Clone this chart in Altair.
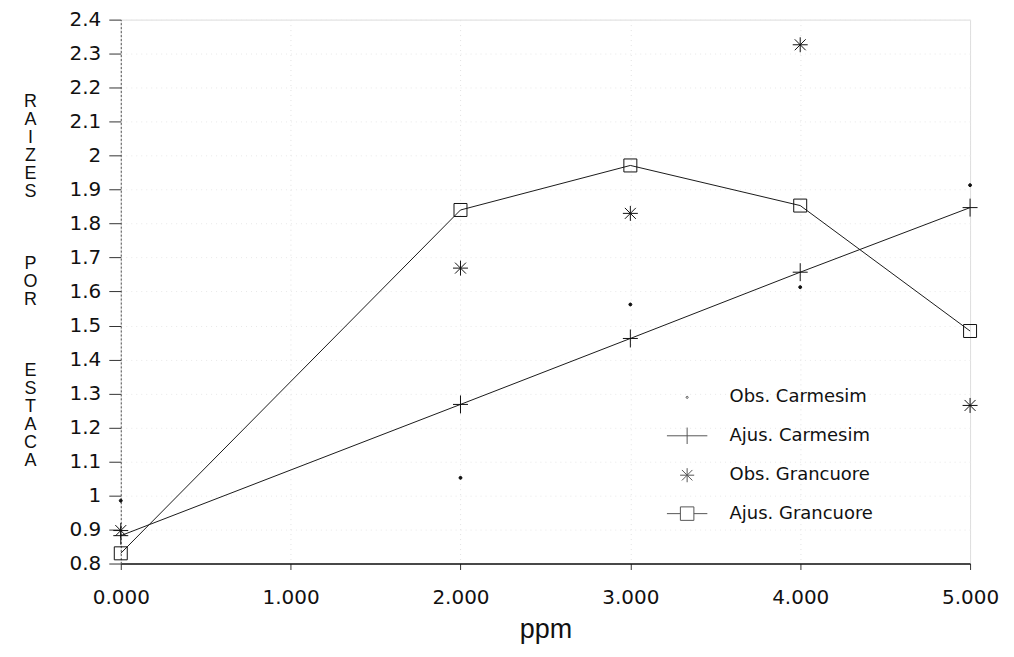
import altair as alt
import pandas as pd

# ---- data ----
ppm = [0, 2000, 3000, 4000, 5000]
obs_carmesim = [0.985, 1.052, 1.562, 1.613, 1.913]
ajus_carmesim = [0.882, 1.268, 1.462, 1.657, 1.847]
obs_grancuore = [0.897, 1.669, 1.830, 2.326, 1.265]
ajus_grancuore = [0.830, 1.840, 1.971, 1.853, 1.484]
series_names = ["Obs. Carmesim", "Ajus. Carmesim", "Obs. Grancuore", "Ajus. Grancuore"]
y_ticks = [round(0.8 + 0.1 * i, 1) for i in range(17)]
x_ticks = [0, 1000, 2000, 3000, 4000, 5000]
ZW = "\u200b"
y_title = ["R", "A", "I", "Z", "E", "S", ZW, ZW, ZW, "P", "O", "R", ZW, ZW, ZW,
           "E", "S", "T", "A", "C", "A"]

rows = []
for name, vals in zip(series_names, [obs_carmesim, ajus_carmesim, obs_grancuore, ajus_grancuore]):
    for x, v in zip(ppm, vals):
        rows.append({"ppm": x, "valor": v, "serie": name})
df = pd.DataFrame(rows)

# marker shapes (custom symbol paths)
plot_paths = [
    "M-0.15,0A0.15,0.15 0 1,0 0.15,0A0.15,0.15 0 1,0 -0.15,0Z",
    "M0,-0.9V0.9M-0.75,0H0.75",
    "M-0.75,0H0.75M0,-0.75V0.75M-0.55,-0.55L0.55,0.55M-0.55,0.55L0.55,-0.55",
    "M-0.65,-0.65H0.65V0.65H-0.65Z",
]
legend_paths = [
    "M-0.07,0A0.07,0.07 0 1,0 0.07,0A0.07,0.07 0 1,0 -0.07,0Z",
    "M-1.35,0H1.35M0,-0.55V0.55",
    "M-0.47,0H0.47M0,-0.47V0.47M-0.35,-0.35L0.35,0.35M-0.35,0.35L0.35,-0.35",
    "M-1.35,0H-0.45M0.45,0H1.35M-0.45,-0.45H0.45V0.45H-0.45Z",
]

x_enc = alt.X(
    "ppm:Q",
    scale=alt.Scale(domain=[0, 5000], nice=False),
    axis=alt.Axis(
        values=x_ticks,
        labelExpr="format(datum.value / 1000, '.3f')",
        labelFlush=False,
        title="ppm",
        labelFont="DejaVu Sans",
        labelFontSize=20,
        labelColor="#111",
        labelPadding=18,
        tickSize=6,
        tickColor="#333",
        domainColor="#111",
        domainWidth=1.5,
        titleFont="Liberation Sans",
        titleFontSize=27,
        titleFontWeight="normal",
        titleColor="#111",
        titlePadding=9,
        grid=True,
        gridColor="#e2e2e2",
        gridDash=[1, 4],
    ),
)
y_enc = alt.Y(
    "valor:Q",
    scale=alt.Scale(domain=[0.8, 2.4], nice=False, zero=False),
    axis=alt.Axis(
        values=y_ticks,
        format="~g",
        labelFlush=False,
        title=y_title,
        titleAngle=0,
        titleX=-91,
        titleY=73,
        titleAlign="center",
        titleBaseline="top",
        titleLineHeight=18,
        titleFont="Liberation Sans",
        titleFontSize=18,
        titleFontWeight="normal",
        titleColor="#111",
        labelFont="DejaVu Sans",
        labelFontSize=20,
        labelColor="#111",
        labelPadding=8,
        tickSize=12,
        tickColor="#333",
        domainColor="#555",
        domainDash=[2, 2],
        grid=True,
        gridColor="#e8e8e8",
        gridDash=[1, 4],
    ),
)

base = alt.Chart(df)

lines = base.transform_filter(
    alt.FieldOneOfPredicate(field="serie", oneOf=["Ajus. Carmesim", "Ajus. Grancuore"])
).mark_line(color="#1a1a1a", strokeWidth=1).encode(x=x_enc, y=y_enc, detail="serie:N")

points = base.mark_point(size=400, strokeWidth=1, color="#111", opacity=1).encode(
    x=x_enc,
    y=y_enc,
    shape=alt.Shape("serie:N", scale=alt.Scale(domain=series_names, range=plot_paths), legend=None),
    fill=alt.Fill("serie:N", scale=alt.Scale(domain=series_names,
                                              range=["#111", "transparent", "transparent", "transparent"]),
                  legend=None),
)

legend_layer = base.transform_filter("false").mark_point(size=900, color="#111").encode(
    x=x_enc,
    y=y_enc,
    shape=alt.Shape(
        "serie:N",
        scale=alt.Scale(domain=series_names, range=legend_paths),
        legend=alt.Legend(
            title=None,
            orient="none",
            legendX=552,
            legendY=363,
            padding=0,
            symbolSize=900,
            symbolStrokeColor="#111",
            symbolFillColor="transparent",
            symbolStrokeWidth=1,
            labelFont="DejaVu Sans",
            labelFontSize=18,
            labelColor="#111",
            labelOffset=27,
            rowPadding=13.5,
            labelLimit=300,
        ),
    ),
)

chart = alt.layer(lines, points, legend_layer).resolve_scale(
    shape="independent", fill="independent"
).properties(
    width=851,
    height=545,
    autosize=alt.AutoSizeParams(type="none"),
    padding={"left": 113, "top": 11, "right": 36, "bottom": 82},
).configure_view(stroke="#444", strokeWidth=1).configure(background="white")

chart.save("out.html", embed_options={"renderer": "svg", "actions": False})
